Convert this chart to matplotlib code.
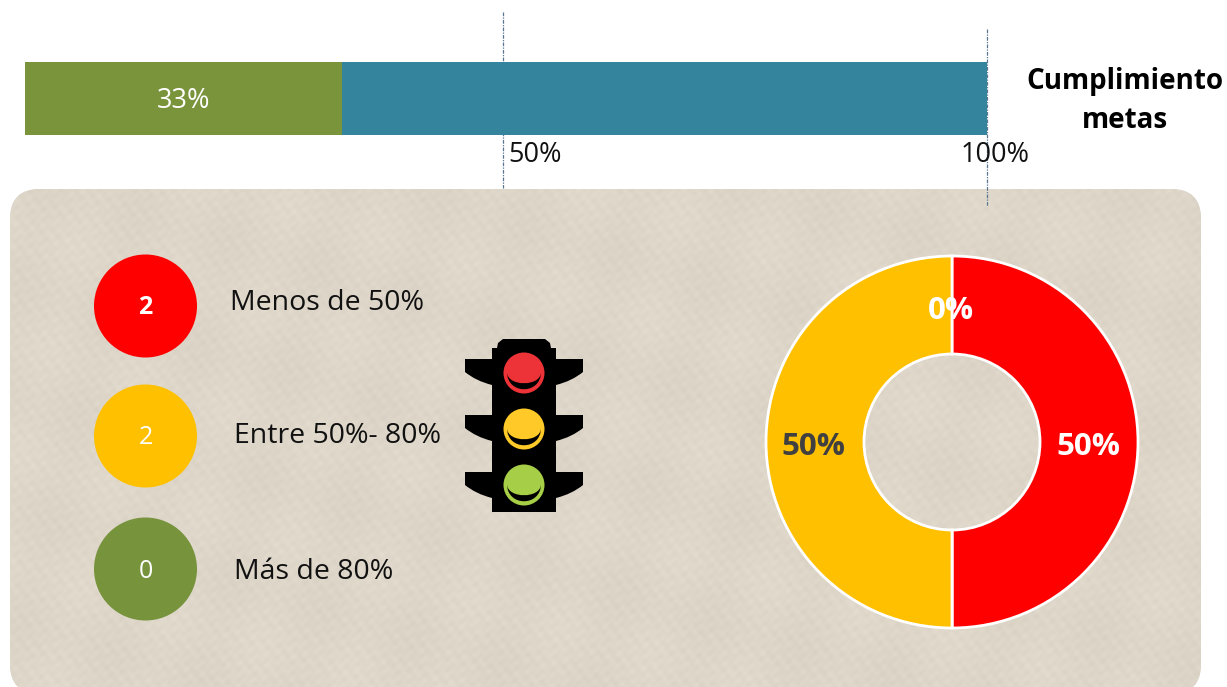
import matplotlib
matplotlib.use("Agg")
import matplotlib.pyplot as plt
import numpy as np
from matplotlib.patches import Circle, FancyBboxPatch, PathPatch
from matplotlib.path import Path

plt.rcParams["font.family"] = ["Open Sans", "DejaVu Sans"]

W, H = 1227, 687

# cumplimiento
meta_values = [33, 67]
meta_colors = ["#7A943C", "#34849E"]
meta_labels = ["33%", ""]
meta_ticks = [50, 100]
meta_tick_labels = ["50%", "100%"]

# semaforo
count_values = [2, 2, 0]
count_labels = ["Menos de 50%", "Entre 50%- 80%", "Más de 80%"]
count_colors = ["#FF0000", "#FFC000", "#77933C"]

# dona
pie_values = [50, 0, 50]
pie_colors = ["#FF0000", "#77933C", "#FFC000"]
pie_labels = ["50%", "0%", "50%"]
pie_text_colors = ["white", "white", "#404040"]

fig = plt.figure(figsize=(W / 100, H / 100), dpi=100)


def px_axes(x0, y0, x1, y1):
    # rectangulo en pixeles de la imagen, y hacia abajo
    return fig.add_axes([x0 / W, 1 - y1 / H, (x1 - x0) / W, (y1 - y0) / H])


# fondo en coordenadas de pixel
bg = fig.add_axes([0, 0, 1, 1], zorder=0)

panel = FancyBboxPatch((40, 219), 1131, 445, boxstyle="round,pad=30,rounding_size=30",
                       fc="#DDD6C9", ec="none")
bg.add_patch(panel)

# textura del panel, solo decorativa
yy, xx = np.mgrid[0:H, 0:W]
mottle = (np.sin(xx * 0.31 + yy * 0.17) * np.sin(xx * 0.13 - yy * 0.41)
          + np.sin(xx * 0.07 + yy * 0.53 + 1.3) * np.sin(xx * 0.59 + yy * 0.05))
mottle = mottle + 1.2 * np.sin(xx * 0.023 + yy * 0.037) * np.sin(xx * 0.041 - yy * 0.019)
tex = np.zeros((H, W, 3))
for k, base in enumerate([221, 214, 201]):
    tex[:, :, k] = (base + 2.0 * mottle) / 255
img = bg.imshow(np.clip(tex, 0, 1), extent=(0, W, H, 0), aspect="auto", interpolation="bilinear", zorder=1)
img.set_clip_path(panel)

bg.set_xlim(0, W)
bg.set_ylim(H, 0)
bg.axis("off")

# lineas punteadas de 50% y 100%
bg.plot([503, 503], [12, 188], color="#5B7690", lw=0.9, ls=(0, (3, 1, 1, 1)), zorder=2)
bg.plot([987, 987], [29, 206], color="#5B7690", lw=0.9, ls=(0, (3, 1, 1, 1)), zorder=2)

# barra
ax_bar = px_axes(25, 62, 987, 135)
ax_bar.set_zorder(1)
ax_bar.patch.set_alpha(0)
left = 0
for v, c, lab in zip(meta_values, meta_colors, meta_labels):
    ax_bar.barh(0, v, left=left, height=1, color=c)
    if lab:
        ax_bar.text(left + v / 2, -0.04, lab, color="white", fontsize=19.5, ha="center", va="center")
    left += v
ax_bar.set_xlim(0, 100)
ax_bar.set_ylim(-0.5, 0.5)
ax_bar.axis("off")

for t, lab in zip(meta_ticks, meta_tick_labels):
    x = 25 + 962 * t / 100
    if t == 50:
        bg.text(x + 2, 155, lab, fontsize=19.5, color="#111111", ha="left", va="center", zorder=5)
    else:
        bg.text(x + 8, 155, lab, fontsize=19.5, color="#111111", ha="center", va="center", zorder=5)

bg.text(1125, 81, "Cumplimiento", fontsize=20, fontweight="bold", color="black", ha="center", va="center", zorder=5)
bg.text(1125, 121, "metas", fontsize=20, fontweight="bold", color="black", ha="center", va="center", zorder=5)

# circulos con conteo
circle_y = [306, 436, 569]
label_x = [230, 234, 234]
label_y = [303, 436, 572]
for i in range(3):
    bg.add_patch(Circle((145.5, circle_y[i]), 51.5, fc=count_colors[i], ec="none", zorder=3))
    bg.text(145.5, circle_y[i] + 2, str(count_values[i]), color="white", fontsize=18,
            fontweight="bold" if i == 0 else "normal", ha="center", va="center", zorder=5)
    bg.text(label_x[i], label_y[i], count_labels[i], color="#111111", fontsize=20.5, ha="left", va="center", zorder=5)

# semaforo
M, L, C3, C4, Z = Path.MOVETO, Path.LINETO, Path.CURVE3, Path.CURVE4, Path.CLOSEPOLY
body = [(492, 512), (492, 348), (497, 348), (498, 343), (503, 339), (545, 339), (550, 343),
        (551, 348), (556, 348), (556, 512), (492, 512)]
bg.add_patch(PathPatch(Path(body, [M] + [L] * 9 + [Z]), fc="black", ec="none", zorder=3))
for wing_y in [359, 415, 472]:
    for s in [-1, 1]:
        verts = [(524 + s * 32, wing_y), (524 + s * 59, wing_y), (524 + s * 59, wing_y + 13),
                 (524 + s * 48, wing_y + 22), (524 + s * 32, wing_y + 26), (524 + s * 32, wing_y)]
        bg.add_patch(PathPatch(Path(verts, [M, L, L, C3, C3, Z]), fc="black", ec="none", zorder=3))
light_colors = ["#EE3338", "#FFCA28", "#A6CE47"]
light_y = [373, 429, 485]
for c, y in zip(light_colors, light_y):
    bg.add_patch(Circle((524, y), 20.5, fc=c, ec="none", zorder=4))
    verts = [(507, y - 1), (507, y + 22), (541, y + 22), (541, y - 1),
             (541, y + 14), (507, y + 14), (507, y - 1)]
    bg.add_patch(PathPatch(Path(verts, [M, C4, C4, C4, C4, C4, C4]), fc="black", ec="none", zorder=5))

# dona
ax_pie = px_axes(952 - 190, 442 - 190, 952 + 190, 442 + 190)
ax_pie.set_zorder(1)
ax_pie.pie(pie_values, colors=pie_colors, startangle=90, counterclock=False, radius=186 / 190,
           wedgeprops=dict(width=98 / 190, edgecolor="white", linewidth=2))
ax_pie.set_xlim(-1, 1)
ax_pie.set_ylim(-1, 1)
label_pos = [(1088, 447), (951, 311), (813, 447)]
for (x, y), lab, c in zip(label_pos, pie_labels, pie_text_colors):
    ax_pie.text((x - 952) / 190, -(y - 442) / 190, lab, color=c, fontsize=22.5, fontweight="bold",
                ha="center", va="center", family=["Open Sans", "DejaVu Sans"])

fig.savefig("out.png", dpi=100)
